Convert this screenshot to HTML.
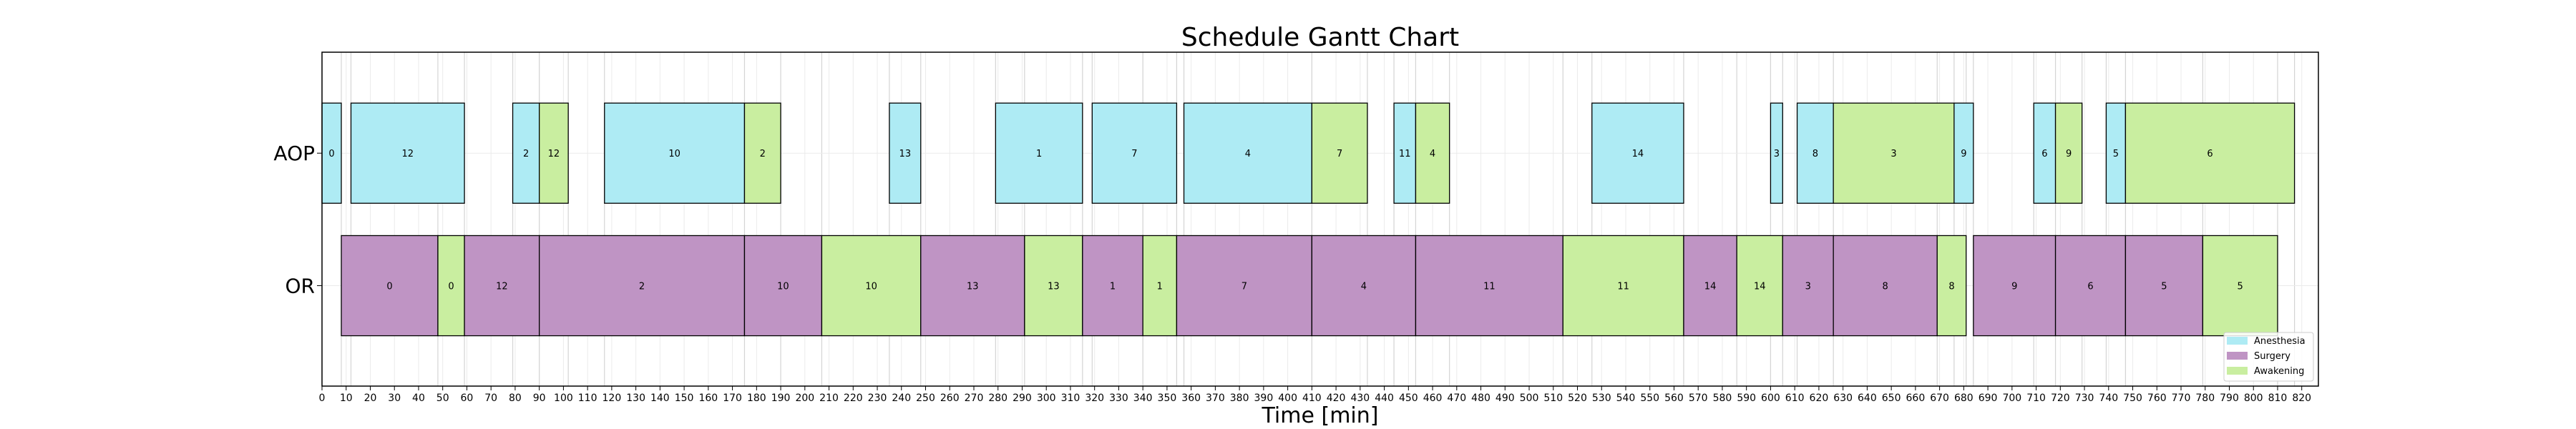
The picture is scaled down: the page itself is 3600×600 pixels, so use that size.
<!DOCTYPE html>
<html><head><meta charset="utf-8"><style>
html,body{margin:0;padding:0;background:#fff;}
svg{display:block;font-family:"DejaVu Sans","Liberation Sans",sans-serif;}
</style></head><body>
<svg id="chart" width="3600" height="600" viewBox="0 0 3600 600">
<text x="1845" y="64" font-size="36" text-anchor="middle">Schedule Gantt Chart</text>
<g id="grid"></g>
<g id="bars"></g>
<rect x="450" y="73" width="2790" height="467" fill="none" stroke="#000" stroke-width="1.5"/>
<g id="xticks"></g>
<g id="yticks"></g>
<text x="1845" y="591" font-size="30" text-anchor="middle">Time [min]</text>
<g>
<rect x="3108" y="465" width="125" height="68" rx="3" fill="#fff" fill-opacity="0.85" stroke="#ccc"/>
<g><rect x="3112" y="471" width="29" height="11" fill="#aeebf4"/><text x="3150" y="481" font-size="13">Anesthesia</text></g>
<g><rect x="3112" y="492" width="29" height="11" fill="#bf94c4"/><text x="3150" y="502" font-size="13">Surgery</text></g>
<g><rect x="3112" y="513" width="29" height="11" fill="#c9eea0"/><text x="3150" y="523" font-size="13">Awakening</text></g>
</g>
</svg>
<script>
const resources = ["OR", "AOP"];
const taskRes   = ["AOP","AOP","AOP","AOP","AOP","AOP","AOP","AOP","AOP","AOP","AOP","AOP","AOP","AOP","AOP","AOP","AOP","AOP","AOP","AOP","AOP","AOP",
 "OR","OR","OR","OR","OR","OR","OR","OR","OR","OR","OR","OR","OR","OR","OR","OR","OR","OR","OR","OR","OR","OR","OR"];
const taskPhase = ["A","A","A","A","A","A","A","A","A","A","A","A","A","A","A","W","W","W","W","W","W","W",
 "S","W","S","S","S","W","S","W","S","W","S","S","S","W","S","W","S","S","W","S","S","S","W"];
const taskId    = [0,12,2,10,13,1,7,4,11,14,3,8,9,6,5, 12,2,7,4,3,9,6,
 0,0,12,2,10,10,13,13,1,1,7,4,11,11,14,14,3,8,8,9,6,5,5];
const taskStart = [0,12,79,117,235,279,319,357,444,526,600,611,676,709,739, 90,175,410,453,626,718,747,
 8,48,59,90,175,207,248,291,315,340,354,410,453,514,564,586,605,626,669,684,718,747,779];
const taskEnd   = [8,59,90,175,248,315,354,410,453,564,605,626,684,718,747, 102,190,433,467,676,729,817,
 48,59,90,175,207,248,291,315,340,354,410,453,514,564,586,605,626,669,681,718,747,779,810];
const xTicks = [];
for (let t = 0; t <= 820; t += 10) xTicks.push(t);

const NS = "http://www.w3.org/2000/svg";
const X0 = 450, XMIN = 0, XMAX = 826.9, PW = 2790;
const xs = v => X0 + (v - XMIN) / (XMAX - XMIN) * PW;
const YTOP = 73, YBOT = 540, YMIN = -0.758, YMAX = 1.762;
const ys = v => YBOT - (v - YMIN) / (YMAX - YMIN) * (YBOT - YTOP);
const BARH = 0.756;
const colors = {A: "#aeebf4", S: "#bf94c4", W: "#c9eea0"};
const phaseName = {A: "anesthesia", S: "surgery", W: "awakening"};
function mk(tag, attrs, parent) {
  const e = document.createElementNS(NS, tag);
  for (const k in attrs) e.setAttribute(k, attrs[k]);
  parent.appendChild(e);
  return e;
}
const grid = document.getElementById("grid");
xTicks.forEach(t => {
  const l = mk("line", {x1: xs(t), x2: xs(t), y1: YTOP, y2: YBOT, stroke: "#ebebeb", "stroke-width": 1}, grid);
  
  
});
const edges = new Set();
taskStart.forEach(v => edges.add(v));
taskEnd.forEach(v => edges.add(v));
edges.forEach(v => {
  const l = mk("line", {x1: xs(v), x2: xs(v), y1: YTOP, y2: YBOT, stroke: "#d4d4d4", "stroke-width": 1.2}, grid);
  
  
});
resources.forEach((r, i) => {
  const l = mk("line", {x1: X0, x2: X0 + PW, y1: ys(i), y2: ys(i), stroke: "#ebebeb", "stroke-width": 1}, grid);
  
  
});
const bars = document.getElementById("bars");
taskStart.forEach((s, i) => {
  const ri = resources.indexOf(taskRes[i]);
  const x1 = xs(s), x2 = xs(taskEnd[i]);
  const y1 = ys(ri + BARH / 2), y2 = ys(ri - BARH / 2);
  const g = mk("g", {}, bars);
  
  
  mk("rect", {x: x1, y: y1, width: x2 - x1, height: y2 - y1, fill: colors[taskPhase[i]], stroke: "#000", "stroke-width": 1.3}, g);
  const t = mk("text", {x: (x1 + x2) / 2, y: (y1 + y2) / 2 + 5, "font-size": 13, "text-anchor": "middle"}, g);
  t.textContent = taskId[i];
});
const xt = document.getElementById("xticks");
xTicks.forEach(t => {
  const g = mk("g", {}, xt);
  
  
  mk("line", {x1: xs(t), x2: xs(t), y1: YBOT, y2: YBOT + 6, stroke: "#000", "stroke-width": 1}, g);
  const tx = mk("text", {x: xs(t), y: YBOT + 21, "font-size": 14, "text-anchor": "middle"}, g);
  tx.textContent = t;
});
const yt = document.getElementById("yticks");
resources.forEach((r, i) => {
  const g = mk("g", {}, yt);
  
  
  mk("line", {x1: X0 - 7, x2: X0, y1: ys(i), y2: ys(i), stroke: "#000", "stroke-width": 1}, g);
  const tx = mk("text", {x: X0 - 10, y: ys(i) + 10, "font-size": 28, "text-anchor": "end"}, g);
  tx.textContent = r;
});
</script>
</body></html>
